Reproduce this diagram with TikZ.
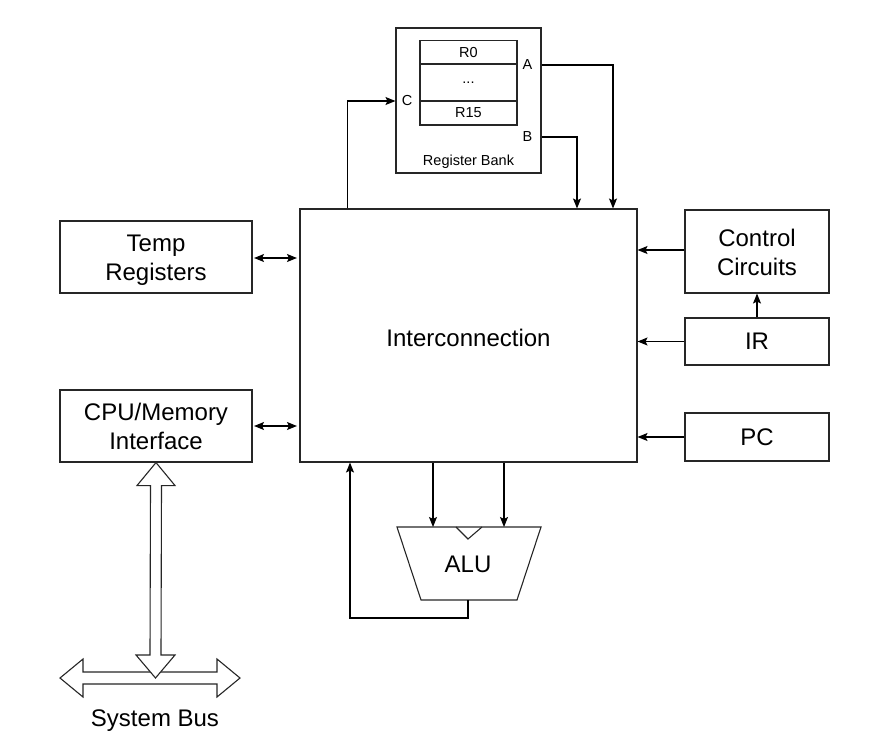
\documentclass[tikz,border=0pt]{standalone}
\usepackage{fontspec}
\setmainfont{Liberation Sans}
\usetikzlibrary{arrows.meta}
\newcommand\bigfont{\fontsize{24}{29}\selectfont}
\newcommand\smallfont{\fontsize{14.5}{17}\selectfont}
\newcommand\lowered[2]{\raisebox{-#1}[\height][\depth]{#2}}
\newcommand\twolines[2]{\lowered{3.5pt}{\begin{tabular}{@{}c@{}}#1\\#2\end{tabular}}}
\begin{document}
\begin{tikzpicture}[x=1pt,y=-1pt,
  box/.style={draw=black!85, line width=1.1pt, inner sep=0pt, align=center, font=\bigfont},
  rowbox/.style={draw=black!85, line width=1.1pt, inner sep=0pt, minimum width=97pt, font=\smallfont},
  lbl/.style={inner sep=0pt, font=\smallfont},
  arr/.style={line width=1.1pt, -{Stealth[length=10pt,width=8pt,inset=2pt]}},
  dbl/.style={line width=1.1pt, {Stealth[length=10pt,width=8pt,inset=2pt]}-{Stealth[length=10pt,width=8pt,inset=2pt]}},
  fat/.style={draw=black!85, fill=white, line width=1.1pt, line join=miter}]
\useasboundingbox (0,0) rectangle (889,750);

% main blocks
\node[box, minimum width=337pt, minimum height=253pt] (ic) at (468.5,335.5) {\lowered{2pt}{Interconnection}};
\node[box, minimum width=192pt, minimum height=72pt] (temp) at (156,257) {\twolines{Temp}{Registers}};
\node[box, minimum width=192pt, minimum height=72pt] (cpu) at (156,426) {\twolines{CPU/Memory}{Interface}};
\node[box, minimum width=144pt, minimum height=83pt] (ctrl) at (757,251.5) {\twolines{Control}{Circuits}};
\node[box, minimum width=144pt, minimum height=47pt] (ir) at (757,341.5) {IR};
\node[box, minimum width=144pt, minimum height=48pt] (pc) at (757,437) {PC};

% register bank
\node[draw=black!85, line width=1.1pt, minimum width=145pt, minimum height=145pt, inner sep=0pt] (rb) at (468.5,100.5) {};
\node[rowbox, minimum height=23.5pt] (r0) at (468.5,52.5) {R0};
\node[rowbox, minimum height=37pt] (rdots) at (468.5,82.5) {...};
\node[rowbox, minimum height=24pt] (r15) at (468.5,113) {R15};
\node[lbl] (rbl) at (468.5,162) {Register Bank};
\node[lbl] (la) at (527.5,65) {A};
\node[lbl] (lb) at (527.5,137) {B};
\node[lbl] (lc) at (407,101) {C};

% ALU
\coordinate (aluTL) at (397,527);
\coordinate (aluTR) at (541,527);
\coordinate (aluBR) at (517,600);
\coordinate (aluBL) at (421,600);
\draw[line width=1.1pt, draw=black!85] (aluTL) -- (aluTR) -- (aluBR) -- (aluBL) -- cycle;
\draw[line width=1.1pt, draw=black!85] (456,527) -- (468,539) -- (482,527);
\node[inner sep=0pt, font=\bigfont] (alu) at (468,564) {ALU};
\coordinate (aluIn1) at (433,527);
\coordinate (aluIn2) at (504,527);
\coordinate (aluOut) at (468,600);

% connectors
\draw[dbl] ([xshift=1.5pt,yshift=-1pt]temp.east) -- ([xshift=-2.5pt,yshift=-1pt]temp.east -| ic.west);
\draw[dbl] ([xshift=1.5pt]cpu.east) -- ([xshift=-2.5pt]cpu.east -| ic.west);
\draw[arr] ([yshift=1.5pt]ctrl.west) -- ([yshift=1.5pt]ctrl.west -| ic.east);
\draw[arr] (ir.west) -- (ir.west -| ic.east);
\draw[arr] (pc.west) -- (pc.west -| ic.east);
\draw[arr] (ir.north) -- (ctrl.south);

\draw[arr] (rb.east |- la) -| ([xshift=144.5pt]ic.north);
\draw[arr] (rb.east |- lb) -| ([xshift=108.5pt]ic.north);
\draw[arr] ([xshift=-121pt]ic.north) |- (rb.west |- lc);

\draw[arr] (ic.south -| aluIn1) -- (aluIn1);
\draw[arr] (ic.south -| aluIn2) -- (aluIn2);
\draw[arr] (aluOut) -- ++(0,18) -| ([xshift=-118.5pt]ic.south);

% system bus
\coordinate (busL) at (60,678);
\coordinate (busR) at (240,678);
\draw[fat] (busL) -- (83,659) -- (83,672) -- (217,672) -- (217,659) -- (busR)
  -- (217,697) -- (217,684) -- (83,684) -- (83,697) -- cycle;
\draw[fat] (cpu.south) -- ([xshift=19pt,yshift=-23pt]cpu.south) -- ([xshift=5.5pt,yshift=-23pt]cpu.south)
  -- (161,655) -- (175,655) -- (155.5,678) -- (136,655) -- (150,655)
  -- ([xshift=-5.5pt,yshift=-23pt]cpu.south) -- ([xshift=-19pt,yshift=-23pt]cpu.south) -- cycle;
\node[inner sep=0pt, font=\bigfont] (bus) at (155,721) {System Bus};
\end{tikzpicture}
\end{document}
